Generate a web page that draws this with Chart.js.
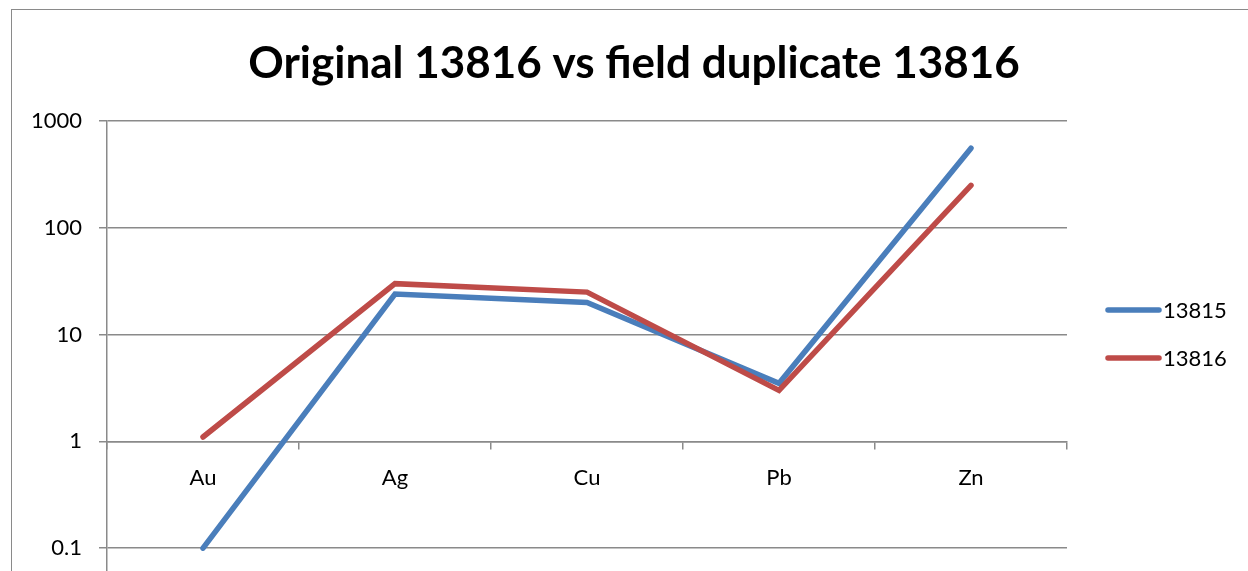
<!DOCTYPE html>
<html>
<head>
<meta charset="utf-8">
<script src="https://cdn.jsdelivr.net/npm/chart.js@4.4.1/dist/chart.umd.min.js"></script>
<style>
  html, body { margin: 0; padding: 0; background: #fff; overflow: hidden; }
  #wrap { position: absolute; left: 0; top: 0; width: 1248px; height: 700px; }
  #frame { position: absolute; left: 11px; top: 9px; width: 1300px; height: 800px;
           border: 1.5px solid #8a8a8a; pointer-events: none; }
</style>
</head>
<body>
<div id="wrap"><canvas id="chart"></canvas></div>
<div id="frame"></div>
<script>
  const TITLE = "Original 13816 vs field duplicate 13816";
  const categories = ["Au", "Ag", "Cu", "Pb", "Zn"];
  const series13815 = [0.1, 24, 20, 3.5, 556];
  const series13816 = [1.1, 30, 25, 3.0, 250];
  const yTicks = [0.01, 0.1, 1, 10, 100, 1000];

  const GRID = "#8a8a8a";
  const FONT = "Lato";

  // titol i llegenda dibuixats a mà (Excel els posa fora de l'àrea del gràfic)
  const extras = {
    id: "extras",
    afterDraw(chart) {
      const ctx = chart.ctx;
      ctx.save();
      ctx.fillStyle = "#000";
      ctx.font = `bold 44px ${FONT}`;
      ctx.textAlign = "center";
      ctx.textBaseline = "alphabetic";
      ctx.fillText(TITLE, 634, 78);

      const rows = [310, 358];
      chart.data.datasets.forEach((ds, i) => {
        const y = rows[i];
        ctx.strokeStyle = ds.borderColor;
        ctx.lineWidth = 5.5;
        ctx.lineCap = "round";
        ctx.beginPath();
        ctx.moveTo(1108, y);
        ctx.lineTo(1159, y);
        ctx.stroke();
        ctx.fillStyle = "#000";
        ctx.font = `22px ${FONT}`;
        ctx.textAlign = "left";
        ctx.textBaseline = "middle";
        ctx.fillText(ds.label, 1163, y + 1);
      });
      ctx.restore();
    }
  };

  new Chart(document.getElementById("chart"), {
    type: "line",
    data: {
      labels: categories,
      datasets: [
        {
          label: "13815",
          data: series13815,
          borderColor: "#4a7ebb",
          order: 1
        },
        {
          label: "13816",
          data: series13816,
          borderColor: "#be4b48",
          order: 0
        }
      ]
    },
    options: {
      responsive: true,
      maintainAspectRatio: false,
      animation: false,
      layout: { padding: { left: 0, right: 181, top: 121, bottom: 45 } },
      elements: {
        line: { borderWidth: 5.5, tension: 0, borderCapStyle: "round", borderJoinStyle: "miter", fill: false },
        point: { radius: 0, hoverRadius: 0 }
      },
      plugins: {
        legend: { display: false },
        title: { display: false },
        tooltip: { enabled: false }
      },
      scales: {
        x: {
          type: "category",
          position: { y: 1 },
          offset: true,
          grid: { offset: true, drawOnChartArea: false, drawTicks: true, tickLength: 7, color: GRID, lineWidth: 1.5 },
          border: { display: true, color: GRID, width: 1.5 },
          ticks: { color: "#000", font: { family: FONT, size: 22 }, padding: 16, maxRotation: 0 }
        },
        y: {
          type: "logarithmic",
          position: "left",
          min: 0.01,
          max: 1000,
          afterBuildTicks: (s) => { s.ticks = yTicks.map(v => ({ value: v })); },
          afterFit: (s) => { s.width = 107; },
          grid: { color: GRID, lineWidth: 1.5, drawTicks: true, tickLength: 8 },
          border: { display: true, color: GRID, width: 1.5 },
          ticks: {
            color: "#000",
            font: { family: FONT, size: 22 },
            padding: 17,
            callback: (v) => String(v)
          }
        }
      }
    },
    plugins: [extras]
  });
</script>
</body>
</html>
